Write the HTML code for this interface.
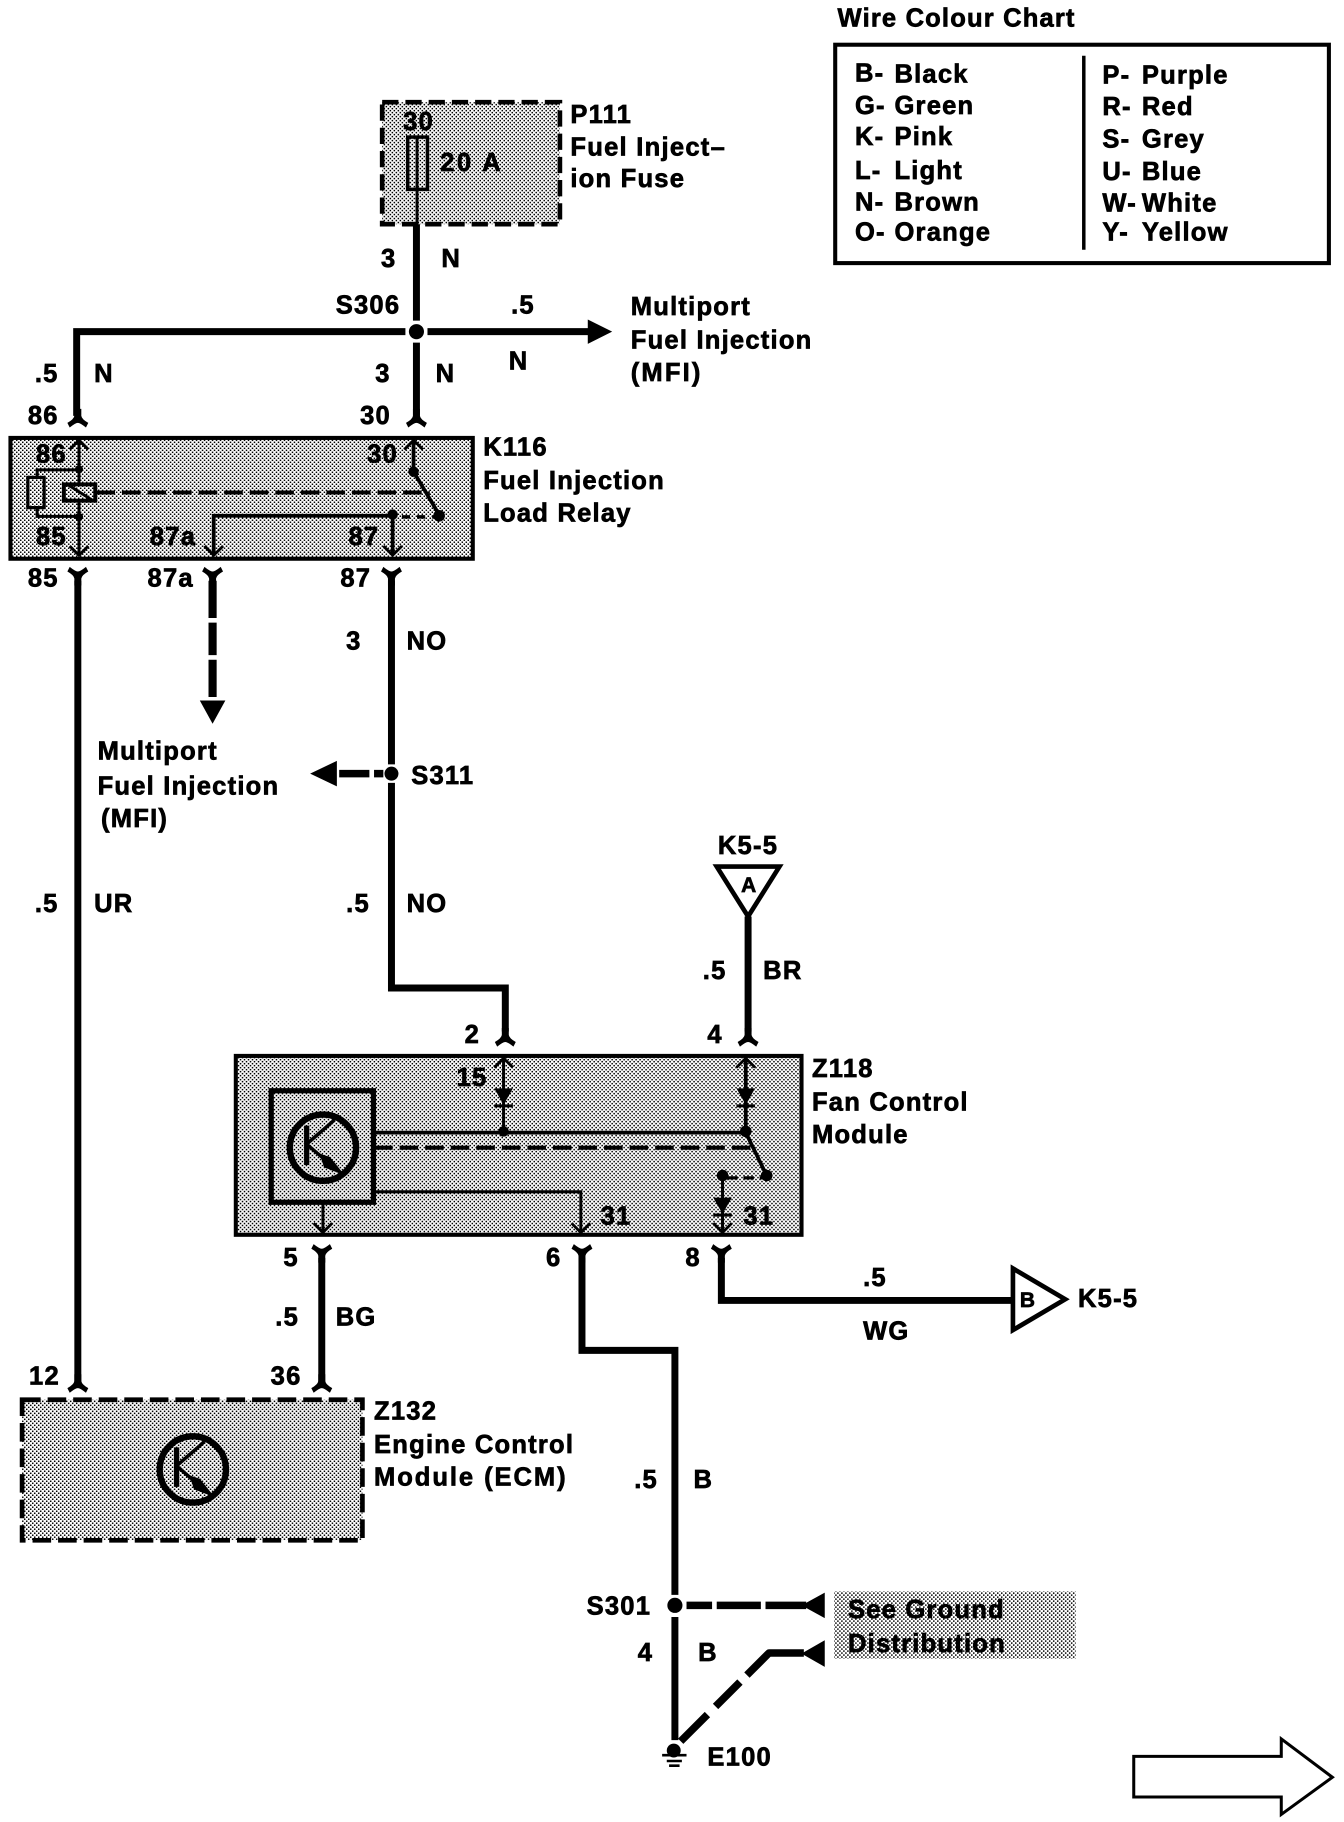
<!DOCTYPE html>
<html>
<head>
<meta charset="utf-8">
<style>
html,body{margin:0;padding:0;background:#fff;width:1344px;height:1822px;overflow:hidden}
svg{display:block}
text{font-family:"Liberation Sans",sans-serif;font-weight:bold;font-size:22px;letter-spacing:1.05px;fill:#000;stroke:#000;stroke-width:.6px}
.w{fill:none;stroke:#000;stroke-width:6}
.t{fill:none;stroke:#000;stroke-width:3.2}
.c{fill:none;stroke:#000;stroke-width:2.6}
</style>
</head>
<body>
<svg width="1344" height="1822" viewBox="0 0 1157 1568.5" xmlns="http://www.w3.org/2000/svg">
<defs>
<pattern id="s" width="3.44" height="3.44" patternUnits="userSpaceOnUse">
<rect width="3.44" height="3.44" fill="#fff"/>
<rect x="0" y="0" width="1.3" height="1.3" fill="#000"/>
<rect x="1.72" y="1.72" width="1.3" height="1.3" fill="#000"/>
</pattern>
<path id="fd" d="M-3,-10 L3,-10 L3,-4 Q3.5,-1 9,2 L7,6 Q2,2 0,2 Q-2,2 -7,6 L-9,2 Q-3.5,-1 -3,-4Z"/>
<path id="fu" d="M-3,10 L3,10 L3,4 Q3.5,1 9,-2 L7,-6 Q2,-2 0,-2 Q-2,-2 -7,-6 L-9,-2 Q-3.5,1 -3,4Z"/>
<path id="cu" d="M-8,8 L0,0 L8,8" fill="none" stroke="#000" stroke-width="2.4"/>
<path id="cd" d="M-8,-8 L0,0 L8,-8" fill="none" stroke="#000" stroke-width="2.4"/>
<g id="dd"><path d="M-8,-8 L8,-8 L0,6Z"/><path d="M-8,7 L8,7" stroke="#000" stroke-width="2.6"/></g>
<g id="tr">
<circle cx="0" cy="0" r="28.500" fill="none" stroke="#000" stroke-width="5.500"/>
<path d="M-14,-19 L-14,15" stroke="#000" stroke-width="4.500" fill="none"/>
<path d="M-14,-3 L10,-24" stroke="#000" stroke-width="3" fill="none"/>
<path d="M-14,-3 L6,14" stroke="#000" stroke-width="3" fill="none"/>
<path d="M-3,5 L6,8 L19,24 L1,17Z"/>
</g>
</defs>

<!-- chart -->
<text x="721" y="23" textLength="205">Wire Colour Chart</text>
<rect x="719" y="38.500" width="425" height="188" fill="#fff" stroke="#000" stroke-width="3.5"/>
<path d="M933,48V215" stroke="#000" stroke-width="3" fill="none"/>
<text x="736" y="70">B-</text><text x="770" y="71">Black</text>
<text x="736" y="98">G-</text><text x="770" y="98">Green</text>
<text x="736" y="125">K-</text><text x="770" y="125">Pink</text>
<text x="736" y="154">L-</text><text x="770" y="154">Light</text>
<text x="736" y="181">N-</text><text x="770" y="181">Brown</text>
<text x="736" y="207">O-</text><text x="770" y="207">Orange</text>
<text x="949" y="72">P-</text><text x="983" y="72">Purple</text>
<text x="949" y="99">R-</text><text x="983" y="99">Red</text>
<text x="949" y="127">S-</text><text x="983" y="127">Grey</text>
<text x="949" y="155">U-</text><text x="983" y="155">Blue</text>
<text x="949" y="182">W-</text><text x="983" y="182">White</text>
<text x="949" y="207">Y-</text><text x="983" y="207">Yellow</text>

<!-- P111 -->
<rect x="329" y="88" width="153" height="105" fill="url(#s)" stroke="#000" stroke-width="4" stroke-dasharray="14 6"/>
<text x="347" y="112">30</text>
<rect x="351" y="118" width="17" height="45" fill="url(#s)" stroke="#000" stroke-width="3"/>
<path d="M359,118V193" class="c"/>
<text x="379" y="147" textLength="53">20 A</text>
<text x="491" y="106">P111</text>
<text x="491" y="134" textLength="134">Fuel Inject–</text>
<text x="491" y="161">ion Fuse</text>
<path d="M358.500,193V276M358.500,295V358" class="w"/>
<text x="328" y="230">3</text><text x="380" y="230">N</text>

<!-- S306 row -->
<path d="M66,358V285.500H349" class="w"/>
<path d="M368,285.500H510" class="w"/>
<path d="M506,275L527,285.500L506,296Z"/>
<circle cx="358.500" cy="285.500" r="6.500"/>
<text x="289" y="270">S306</text>
<text x="440" y="270">.5</text>
<text x="438" y="318">N</text>
<text x="543" y="271">Multiport</text>
<text x="543" y="300">Fuel Injection</text>
<text x="543" y="328" textLength="61">(MFI)</text>
<text x="30" y="329">.5</text><text x="81" y="329">N</text>
<text x="323" y="329">3</text><text x="375" y="329">N</text>
<text x="24" y="365">86</text><text x="310" y="365">30</text>
<use href="#fd" x="67" y="362"/><use href="#fd" x="358.500" y="362"/>

<!-- K116 -->
<rect x="9" y="377" width="398" height="104" fill="url(#s)" stroke="#000" stroke-width="3.500"/>
<text x="31" y="398">86</text><text x="316" y="398">30</text>
<text x="31" y="469">85</text><text x="129" y="469">87a</text><text x="300" y="469">87</text>
<path d="M68,379V478" class="c"/>
<use href="#cu" x="68" y="379"/><use href="#cd" x="68" y="478"/>
<circle cx="68" cy="404" r="3.500"/><circle cx="68" cy="445" r="3.500"/>
<path d="M32,412V404.500H68M32,436V444.500H68" class="c"/>
<rect x="24" y="411" width="14" height="26" fill="url(#s)" stroke="#000" stroke-width="2.8"/>
<rect x="55" y="417" width="27" height="14" fill="url(#s)" stroke="#000" stroke-width="3.400"/>
<path d="M58,417L80,431" class="c"/>
<path d="M83,424H370" stroke="#000" stroke-width="3.500" stroke-dasharray="16 6" fill="none"/>
<path d="M356,379V406L378,443" class="t"/>
<use href="#cu" x="356" y="379"/>
<circle cx="356" cy="406" r="4.500"/><circle cx="378" cy="444" r="5"/>
<path d="M184,478V444H338V478" class="t"/>
<use href="#cd" x="184" y="478"/><use href="#cd" x="338" y="478"/>
<circle cx="338" cy="443" r="4.500"/>
<path d="M346,445H378" stroke="#000" stroke-width="3" stroke-dasharray="7 6" fill="none"/>
<text x="416" y="392">K116</text>
<text x="416" y="421">Fuel Injection</text>
<text x="416" y="449">Load Relay</text>

<!-- under K116 -->
<text x="24" y="505">85</text><text x="127" y="505">87a</text><text x="293" y="505">87</text>
<use href="#fu" x="67" y="494"/><use href="#fu" x="183" y="494"/><use href="#fu" x="337" y="494"/>
<path d="M67,500V1190" class="w"/>
<path d="M183,500V606" stroke="#000" stroke-width="7" stroke-dasharray="32 4 28 4" fill="none"/>
<path d="M172,603H194L183,623Z"/>
<path d="M337,500V658M337,674V850.500H435V888" class="w"/>
<circle cx="337" cy="666" r="6"/>
<path d="M330,666H288" stroke="#000" stroke-width="6.500" stroke-dasharray="8 4 26 4" fill="none"/>
<path d="M290,655V677L267,666Z"/>
<text x="298" y="559">3</text><text x="350" y="559">NO</text>
<text x="354" y="675">S311</text>
<text x="84" y="654">Multiport</text>
<text x="84" y="684">Fuel Injection</text>
<text x="87" y="712">(MFI)</text>
<text x="30" y="785">.5</text><text x="81" y="785">UR</text>
<text x="298" y="785">.5</text><text x="350" y="785">NO</text>

<!-- K5-5 A -->
<text x="618" y="735">K5-5</text>
<path d="M617,746H671L644,789Z" fill="#fff" stroke="#000" stroke-width="4"/>
<text x="638" y="768" style="font-size:18px;letter-spacing:0">A</text>
<path d="M644,789V888" class="w"/>
<text x="605" y="843">.5</text><text x="657" y="843">BR</text>
<text x="400" y="898">2</text><text x="609" y="898">4</text>
<use href="#fd" x="435" y="895"/><use href="#fd" x="644" y="895"/>

<!-- Z118 -->
<rect x="203" y="909" width="487" height="154" fill="url(#s)" stroke="#000" stroke-width="3.500"/>
<rect x="233.500" y="939" width="88" height="96" fill="url(#s)" stroke="#000" stroke-width="4.500"/>
<use href="#tr" x="278" y="988"/>
<path d="M322,975H641" class="t"/>
<path d="M322,988H650" stroke="#000" stroke-width="3.500" stroke-dasharray="16 6" fill="none"/>
<path d="M322,1026H500V1060" class="c"/>
<path d="M278,1035V1060" class="c"/>
<use href="#cd" x="278" y="1061"/><use href="#cd" x="500" y="1061"/><use href="#cd" x="622" y="1061"/>
<path d="M433.500,911V974" class="c"/><use href="#cu" x="433.500" y="911"/>
<use href="#dd" x="433.500" y="945"/>
<circle cx="433.500" cy="974" r="4.500"/>
<path d="M642,911V975L660,1012" class="t"/><use href="#cu" x="642" y="911"/>
<use href="#dd" x="642" y="945"/>
<circle cx="642" cy="974" r="5"/>
<circle cx="660" cy="1012" r="5"/>
<circle cx="622" cy="1012" r="5"/>
<path d="M626,1014H658" stroke="#000" stroke-width="2.800" stroke-dasharray="9 5" fill="none"/>
<path d="M622,1012V1060" class="c"/>
<use href="#dd" x="622" y="1039"/>
<text x="393" y="935">15</text>
<text x="517" y="1054">31</text>
<text x="640" y="1054">31</text>
<text x="699" y="927">Z118</text>
<text x="699" y="956">Fan Control</text>
<text x="699" y="984">Module</text>

<!-- below Z118 -->
<text x="244" y="1090">5</text><text x="470" y="1090">6</text><text x="590" y="1090">8</text>
<use href="#fu" x="277" y="1077"/><use href="#fu" x="501" y="1077"/><use href="#fu" x="621" y="1077"/>
<path d="M277,1083V1190" class="w"/>
<path d="M501,1083V1162.500H581V1373" class="w"/>
<path d="M621,1083V1119.500H872" class="w"/>
<path d="M872,1092V1145L917,1118.500Z" fill="#fff" stroke="#000" stroke-width="4"/>
<text x="878" y="1125" style="font-size:18px;letter-spacing:0">B</text>
<text x="928" y="1125">K5-5</text>
<text x="743" y="1107">.5</text><text x="743" y="1153">WG</text>
<text x="237" y="1141">.5</text><text x="289" y="1141">BG</text>
<text x="25" y="1192">12</text><text x="233" y="1192">36</text>
<use href="#fd" x="67" y="1193"/><use href="#fd" x="277" y="1193"/>

<!-- Z132 -->
<rect x="19" y="1205" width="293" height="121" fill="url(#s)" stroke="#000" stroke-width="4" stroke-dasharray="16 6"/>
<use href="#tr" x="166" y="1265"/>
<text x="322" y="1222">Z132</text>
<text x="322" y="1251">Engine Control</text>
<text x="322" y="1279" textLength="166">Module (ECM)</text>

<!-- ground -->
<text x="546" y="1281">.5</text><text x="597" y="1281">B</text>
<text x="505" y="1390">S301</text>
<circle cx="581" cy="1382" r="6.500"/>
<path d="M581,1392V1498" class="w"/>
<path d="M591,1382H694" stroke="#000" stroke-width="6.500" stroke-dasharray="22 4 38 4 40 0" fill="none"/>
<path d="M710,1371V1393L690,1382Z"/>
<path d="M586,1499L609,1476M616,1469L637,1448M643,1442L662,1423H692" stroke="#000" stroke-width="6.500" fill="none" stroke-linejoin="round"/>
<path d="M710,1412V1435L690,1423.500Z"/>
<text x="549" y="1430">4</text><text x="601" y="1430">B</text>
<rect x="718" y="1370" width="208" height="58" fill="url(#s)"/>
<text x="730" y="1393">See Ground</text>
<text x="730" y="1422">Distribution</text>
<circle cx="580" cy="1507" r="6"/>
<path d="M570,1511H591M574,1516H587M576,1520H585" stroke="#000" stroke-width="2.200" fill="none"/>
<text x="609" y="1520">E100</text>

<!-- next arrow -->
<path d="M976,1512H1103V1497L1147,1530L1103,1562V1547H976Z" fill="#fff" stroke="#000" stroke-width="2.600"/>
</svg>
</body>
</html>
